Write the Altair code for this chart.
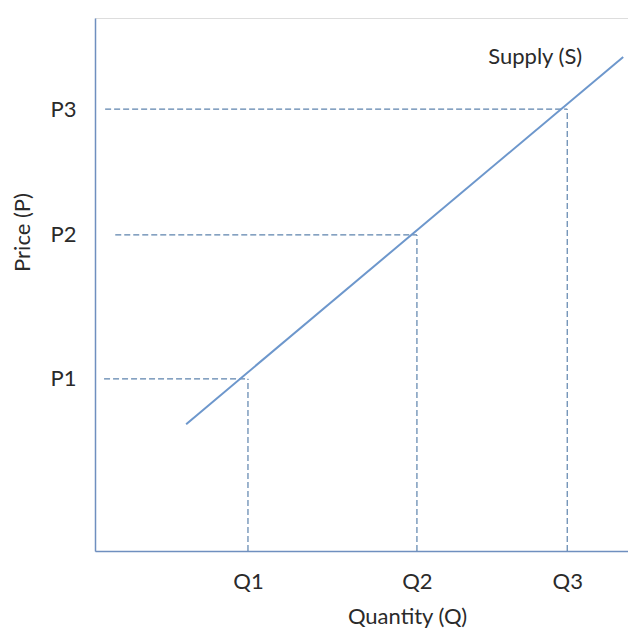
import altair as alt
import pandas as pd

# --- data (plot units: 0..10 on both axes) ---
q_labels = ["Q1", "Q2", "Q3"]
q_values = [2.87, 6.04, 8.86]
p_labels = ["P1", "P2", "P3"]
p_values = [3.23, 5.93, 8.29]
h_dash_start = [0.17, 0.38, 0.19]   # where each horizontal dashed guide begins
supply_x = [1.71, 9.91]
supply_y = [2.38, 9.27]
supply_label = "Supply (S)"
supply_label_pos = [8.26, 9.27]

FONT = "Lato"
FS = 22
AXIS_COLOR = "#6f8fbf"
LINE_COLOR = "#6d97cc"
DASH_COLOR = "#5d83ad"
TEXT_COLOR = "#2a2a2a"

xs = alt.Scale(domain=[0, 10], nice=False, zero=False)
ys = alt.Scale(domain=[0, 10], nice=False, zero=False)

p_lookup = "[" + ",".join(f"'{l}'" for l in p_labels) + "][indexof([" + ",".join(str(v) for v in p_values) + "], datum.value)]"
q_lookup = "[" + ",".join(f"'{l}'" for l in q_labels) + "][indexof([" + ",".join(str(v) for v in q_values) + "], datum.value)]"

supply_df = pd.DataFrame({"x": supply_x, "y": supply_y})
hdf = pd.DataFrame({"x": h_dash_start, "x2": q_values, "y": p_values})
vdf = pd.DataFrame({"x": q_values, "y": [0, 0, 0], "y2": p_values})
ldf = pd.DataFrame({"x": [supply_label_pos[0]], "y": [supply_label_pos[1]], "t": [supply_label]})

supply = alt.Chart(supply_df).mark_line(color=LINE_COLOR, strokeWidth=2).encode(
    x=alt.X("x:Q", scale=xs, title="Quantity (Q)",
            axis=alt.Axis(values=q_values, labelExpr=q_lookup, grid=False, ticks=False,
                          domainColor=AXIS_COLOR, domainWidth=1.5, labelPadding=20,
                          labelFontSize=FS, labelColor=TEXT_COLOR, labelFont=FONT,
                          titleFont=FONT, titleFontSize=FS, titleFontWeight="normal",
                          titleColor=TEXT_COLOR, titleX=312, titleY=72,
                          titleAlign="center", titleBaseline="alphabetic")),
    y=alt.Y("y:Q", scale=ys, title="Price (P)",
            axis=alt.Axis(values=p_values, labelExpr=p_lookup, grid=False, ticks=False,
                          domainColor=AXIS_COLOR, domainWidth=1.5, labelPadding=19,
                          labelFontSize=FS, labelColor=TEXT_COLOR, labelFont=FONT,
                          titleFont=FONT, titleFontSize=FS, titleFontWeight="normal",
                          titleColor=TEXT_COLOR, titleAngle=270, titleX=-73, titleY=214,
                          titleAlign="center", titleBaseline="middle")),
)

hrules = alt.Chart(hdf).mark_rule(color=DASH_COLOR, strokeWidth=1.2, strokeDash=[6, 3]).encode(
    x=alt.X("x:Q", scale=xs), x2="x2:Q", y=alt.Y("y:Q", scale=ys)
)
vrules = alt.Chart(vdf).mark_rule(color=DASH_COLOR, strokeWidth=1.2, strokeDash=[6, 3]).encode(
    x=alt.X("x:Q", scale=xs), y=alt.Y("y:Q", scale=ys), y2="y2:Q"
)
label = alt.Chart(ldf).mark_text(font=FONT, fontSize=FS, color=TEXT_COLOR, align="center",
                                 baseline="middle").encode(
    x=alt.X("x:Q", scale=xs), y=alt.Y("y:Q", scale=ys), text="t:N"
)

chart = alt.layer(hrules, vrules, supply, label).properties(
    width=533, height=533,
    autosize=alt.AutoSizeParams(type="none"),
    padding={"left": 87, "top": 10, "right": 0, "bottom": 82},
).configure_view(stroke=None).configure(background="white")

chart.save("out.html", embed_options={"renderer": "svg", "actions": False})
